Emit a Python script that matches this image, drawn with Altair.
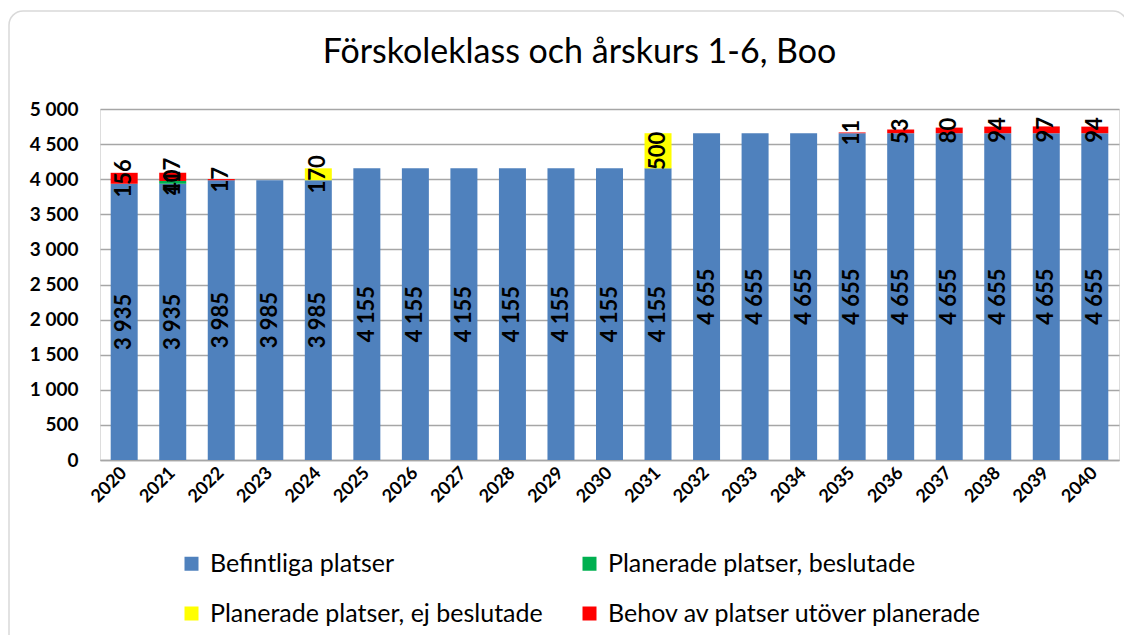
import altair as alt
import pandas as pd

years = [str(y) for y in range(2020, 2041)]
befintliga = [3935, 3935, 3985, 3985, 3985, 4155, 4155, 4155, 4155, 4155, 4155, 4155,
              4655, 4655, 4655, 4655, 4655, 4655, 4655, 4655, 4655]
beslutade = [0, 40, 0, 0, 0, 0, 0, 0, 0, 0, 0, 0, 0, 0, 0, 0, 0, 0, 0, 0, 0]
ej_beslutade = [0, 0, 0, 0, 170, 0, 0, 0, 0, 0, 0, 500, 0, 0, 0, 0, 0, 0, 0, 0, 0]
behov = [156, 117, 17, 0, 0, 0, 0, 0, 0, 0, 0, 0, 0, 0, 0, 11, 53, 80, 94, 97, 94]

series = ["Befintliga platser", "Planerade platser, beslutade",
          "Planerade platser, ej beslutade", "Behov av platser utöver planerade"]
colors = ["#4F81BD", "#00B050", "#FFFF00", "#FF0000"]
y_ticks = list(range(0, 5001, 500))

rows = []
for i, y in enumerate(years):
    for k, (name, vals) in enumerate(zip(series, [befintliga, beslutade, ej_beslutade, behov])):
        v = vals[i]
        if v > 0:
            rows.append({"year": y, "serie": name, "value": v, "order": k,
                         "label": f"{v:,}".replace(",", " ")})
df = pd.DataFrame(rows)

FONT = "Lato, 'Liberation Sans', sans-serif"

x_axis = alt.Axis(labelAngle=-45, labelAlign="right", labelBaseline="middle",
                  labelFontWeight="bold", labelFontSize=18,
                  labelFont=FONT, labelColor="black", domainColor="#A6A6A6",
                  domainWidth=1.5, ticks=False, labelPadding=10, labelOverlap=False)
y_axis = alt.Axis(values=y_ticks,
                  labelExpr="replace(format(datum.value, ','), ',', ' ')",
                  labelFontWeight="bold", labelFontSize=19, labelFont=FONT,
                  labelColor="black", gridColor="#A6A6A6", gridWidth=1.5,
                  domain=False, ticks=False, labelPadding=22, labelOverlap=False)
x_scale = alt.Scale(paddingInner=0.443, paddingOuter=0.22)
y_scale = alt.Scale(domain=[0, 5000], nice=False)

base = alt.Chart(df)

bars = base.mark_bar(size=27).encode(
    x=alt.X("year:N", title=None, sort=years, scale=x_scale, axis=x_axis),
    y=alt.Y("value:Q", stack="zero", title=None, scale=y_scale, axis=y_axis),
    color=alt.Color("serie:N", scale=alt.Scale(domain=series, range=colors),
                    legend=alt.Legend(title=None, orient="none", legendX=79, legendY=442,
                                      direction="horizontal",
                                      columns=2, symbolType="square", symbolSize=196,
                                      symbolStrokeWidth=0, symbolOpacity=1,
                                      labelFontSize=25, labelFont=FONT, labelColor="black",
                                      rowPadding=24, columnPadding=34, labelOffset=6,
                                      labelLimit=500)),
    order=alt.Order("order:Q"),
)

labels = base.transform_stack(
    stack="value", groupby=["year"], as_=["v0", "v1"], sort=[alt.SortField("order")]
).transform_calculate(
    mid="(datum.v0 + datum.v1) / 2"
).mark_text(angle=270, fontWeight="bold", fontSize=22, font=FONT, color="black",
            align="center", baseline="middle").encode(
    x=alt.X("year:N", title=None, sort=years, scale=x_scale, axis=x_axis),
    y=alt.Y("mid:Q", title=None, scale=y_scale, axis=y_axis),
    text="label:N",
)

frame = alt.Chart(pd.DataFrame({"a": [0]})).mark_rect(
    fill=None, stroke="#D9D9D9", strokeWidth=1.5, cornerRadius=14, clip=False
).encode(x=alt.value(-91), x2=alt.value(1027), y=alt.value(-98), y2=alt.value(560))

chart = alt.layer(frame, bars, labels).properties(
    width=1019, height=351,
    title=alt.TitleParams("Förskoleklass och årskurs 1-6, Boo", font=FONT, fontSize=34,
                          fontWeight="normal", color="black", anchor="middle",
                          frame="group", offset=-60, dx=-30),
    autosize=alt.AutoSizeParams(type="none"),
    padding={"left": 92, "top": 101, "right": 5, "bottom": 175},
).configure_view(stroke=None).configure(background="white")

chart.save("out.html", embed_options={"renderer": "svg", "actions": False})
